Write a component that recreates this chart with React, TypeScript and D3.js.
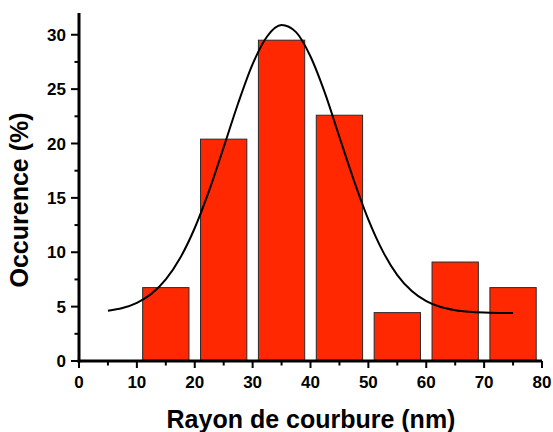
import React from "react";
import * as d3 from "d3";

const binStarts = [11, 21, 31, 41, 51, 61, 71];
const binEnds = [19, 29, 39, 49, 59, 69, 79];
const occurrence = [6.75, 20.4, 29.5, 22.6, 4.45, 9.1, 6.75];

const fitX = [5, 7.5, 10, 12.5, 15, 17.5, 20, 22.5, 25, 27.5, 30, 32.5, 35, 37.5, 40, 42.5, 45, 47.5, 50, 52.5, 55, 57.5, 60, 62.5, 65, 67.5, 70, 72.5, 75];
const fitY = [4.62, 4.87, 5.35, 6.17, 7.5, 9.49, 12.23, 15.69, 19.65, 23.7, 27.3, 29.84, 30.89, 30.24, 28.0, 24.63, 20.6, 16.6, 13.0, 10.08, 7.9, 6.43, 5.5, 4.96, 4.67, 4.52, 4.45, 4.42, 4.41];

const xMajor = [0, 10, 20, 30, 40, 50, 60, 70, 80];
const xMinor = [5, 15, 25, 35, 45, 55, 65, 75];
const yMajor = [0, 5, 10, 15, 20, 25, 30];
const yMinor = [2.5, 7.5, 12.5, 17.5, 22.5, 27.5];

const xTitle = "Rayon de courbure (nm)";
const yTitle = "Occurence (%)";

const W = 553;
const H = 432;
const FONT = "Arial, 'Liberation Sans', sans-serif";

export default function App() {
  const x = d3.scaleLinear().domain([0, 80]).range([79, 542]);
  const y = d3.scaleLinear().domain([0, 32]).range([361, 13]);
  const line = d3
    .line<number>()
    .x((_, i) => x(fitX[i]))
    .y((d) => y(d))
    .curve(d3.curveMonotoneX);

  return (
    <svg
      width={W}
      height={H}
      style={{ position: "fixed", left: 0, top: 0, background: "#fff" }}
      fontFamily={FONT}
    >
      <rect width={W} height={H} fill="#fff" />
      {occurrence.map((v, i) => (
        <rect
          key={i}
          x={x(binStarts[i])}
          y={y(v)}
          width={x(binEnds[i]) - x(binStarts[i])}
          height={y(0) - y(v)}
          fill="#ff2800"
          stroke="#2a2a2a"
          strokeWidth={1}
        />
      ))}
      <path d={line(fitY) || ""} fill="none" stroke="#000" strokeWidth={2} />
      {/* axes */}
      <line x1={x(0)} x2={x(0)} y1={y(0) + 1.5} y2={y(32)} stroke="#000" strokeWidth={3} />
      <line x1={x(0) - 1.5} x2={x(80)} y1={y(0)} y2={y(0)} stroke="#000" strokeWidth={3} />
      {xMajor.map((t) => (
        <g key={"xm" + t}>
          <line x1={x(t)} x2={x(t)} y1={y(0)} y2={y(0) + 7} stroke="#000" strokeWidth={2} />
          <text x={x(t)} y={388} textAnchor="middle" fontSize={17} fontWeight="bold">
            {t}
          </text>
        </g>
      ))}
      {xMinor.map((t) => (
        <line key={"xn" + t} x1={x(t)} x2={x(t)} y1={y(0)} y2={y(0) + 4.5} stroke="#000" strokeWidth={2} />
      ))}
      {yMajor.map((t) => (
        <g key={"ym" + t}>
          <line x1={x(0) - 8} x2={x(0)} y1={y(t)} y2={y(t)} stroke="#000" strokeWidth={2} />
          <text x={66} y={y(t) + 6} textAnchor="end" fontSize={17} fontWeight="bold">
            {t}
          </text>
        </g>
      ))}
      {yMinor.map((t) => (
        <line key={"yn" + t} x1={x(0) - 4.5} x2={x(0)} y1={y(t)} y2={y(t)} stroke="#000" strokeWidth={2} />
      ))}
      <text x={311} y={428} textAnchor="middle" fontSize={25} fontWeight="bold">
        {xTitle}
      </text>
      <text
        transform={`translate(28, 200) rotate(-90)`}
        textAnchor="middle"
        fontSize={25}
        fontWeight="bold"
      >
        {yTitle}
      </text>
    </svg>
  );
}
